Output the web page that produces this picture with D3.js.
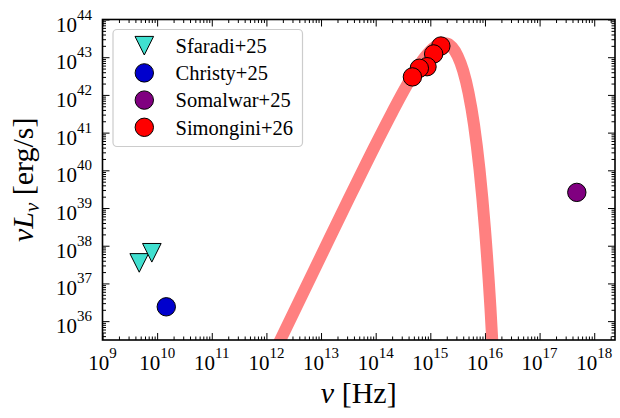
<!DOCTYPE html>
<html>
<head>
<meta charset="utf-8">
<script src="https://cdn.jsdelivr.net/npm/d3@7/dist/d3.min.js"></script>
<style>body { margin: 0; background: #fff; }</style>
</head>
<body>
<script>
// observations (nu in Hz, nuLnu in erg/s)
const nuSfaradi = [4.7e9, 8.0e9];
const lumSfaradi = [3.5e37, 6.5e37];
const nuChristy = [1.47e10];
const lumChristy = [2.4e36];
const nuSomalwar = [4.8e17];
const lumSomalwar = [2.6e39];
// Simongini points, listed in the order they are stacked (high nu first)
const nuSimongini = [1.56e15, 1.15e15, 8.7e14, 6.3e14, 4.7e14];
const lumSimongini = [1.98e43, 1.22e43, 5.6e42, 5.1e42, 3.0e42];

// thick model curve, read along the band
const curveNu = [1.585e12, 3.16e12, 1e13, 3.16e13, 1e14, 2.0e14, 3.16e14, 5.01e14, 7.94e14,
  1e15, 1.26e15, 1.58e15, 2.0e15, 2.51e15, 3.16e15, 3.98e15, 5.01e15, 6.31e15, 7.94e15,
  1e16, 1.26e16, 1.41e16];
const curveLum = [2.16e35, 1.71e36, 5.37e37, 1.66e39, 4.85e40, 3.43e41, 1.19e42, 3.73e42, 9.95e42,
  1.47e43, 1.97e43, 2.33e43, 2.31e43, 1.83e43, 1.08e43, 4.43e42, 1.13e42, 1.60e41, 1.07e40,
  2.81e38, 2.24e36, 1.19e35];

const seriesNames = ["Sfaradi+25", "Christy+25", "Somalwar+25", "Simongini+26"];
const xTickExp = [9, 10, 11, 12, 13, 14, 15, 16, 17, 18];
const yTickExp = [36, 37, 38, 39, 40, 41, 42, 43, 44];

const L = 102.5, R = 615, T = 19.5, B = 340;

const svg = d3.select("body").append("svg").attr("width", 620).attr("height", 418);

const x = d3.scaleLog().domain([1e9, 2.4e18]).range([L, R]);
const y = d3.scaleLog().domain([3.16e35, 1e44]).range([B, T]);

const markStyle = {
  "Sfaradi+25": {fill: "#40e0d0", shape: "tri"},
  "Christy+25": {fill: "#0000cd", shape: "circle"},
  "Somalwar+25": {fill: "#800080", shape: "circle"},
  "Simongini+26": {fill: "#ff0000", shape: "circle"}
};
const triPath = "M0,9.3L-9.3,-9.3L9.3,-9.3Z";

function serif(t, size) {
  return t.style("font-family", "Liberation Serif").style("font-size", size + "px");
}

// ---- all text first ----
const xMajor = xTickExp.map(e => Math.pow(10, e));
const yMajor = yTickExp.map(e => Math.pow(10, e));

function powLabel(t, d) {
  t.append("tspan").text("10");
  t.append("tspan").attr("dy", -12).style("font-size", "15px").text(Math.round(Math.log10(d)));
}
xMajor.forEach(d => {
  const t = serif(svg.append("text"), 21).attr("x", x(d)).attr("y", B + 30).attr("text-anchor", "middle");
  powLabel(t, d);
});
yMajor.forEach(d => {
  const t = serif(svg.append("text"), 21).attr("x", L - 10.5).attr("y", y(d) + 12).attr("text-anchor", "end");
  powLabel(t, d);
});

const xt = serif(svg.append("text"), 30).attr("x", (L + R) / 2).attr("y", 403)
  .attr("text-anchor", "middle");
xt.append("tspan").style("font-style", "italic").text("ν");
xt.append("tspan").text(" [Hz]");

const yt = serif(svg.append("text"), 30)
  .attr("transform", `translate(32.5,${(T + B) / 2}) rotate(-90)`)
  .attr("text-anchor", "middle");
yt.append("tspan").style("font-style", "italic").text("νL");
yt.append("tspan").style("font-style", "italic").style("font-size", "21px").attr("dy", 6).text("ν");
yt.append("tspan").attr("dy", -6).text(" [erg/s]");

// legend (box, markers, labels) - nothing else is drawn in its area
svg.append("rect").attr("x", 113).attr("y", 29.5).attr("width", 189.5).attr("height", 117)
  .attr("rx", 4).attr("fill", "#fff").attr("fill-opacity", 0.8)
  .attr("stroke", "#cccccc").attr("stroke-width", 1.2);
seriesNames.forEach((name, i) => {
  const cy = 45.7 + i * 27.2;
  const st = markStyle[name];
  if (st.shape == "tri") {
    svg.append("path").attr("d", triPath).attr("transform", `translate(144.3,${cy})`)
      .attr("fill", st.fill).attr("stroke", "#000").attr("stroke-width", 1);
  } else {
    svg.append("circle").attr("cx", 144.3).attr("cy", cy).attr("r", 9.2)
      .attr("fill", st.fill).attr("stroke", "#000").attr("stroke-width", 1);
  }
  serif(svg.append("text"), 20.5).attr("x", 175.5).attr("y", cy + 7.2).text(name);
});

// ---- plot ----
svg.append("defs").append("clipPath").attr("id", "plotclip")
  .append("rect").attr("x", L).attr("y", T).attr("width", R - L).attr("height", B - T);

function minorOf(lo, hi) {
  var out = [];
  for (var e = lo; e <= hi; e++) {
    for (var k = 2; k <= 9; k++) out.push(k * Math.pow(10, e));
  }
  return out;
}
const xMinor = minorOf(9, 18).filter(v => v < x.domain()[1]);
const yMinor = minorOf(35, 43).filter(v => v > y.domain()[0]);

function tickLines(g) {
  g.select(".domain").remove();
  g.selectAll("text").remove();
  g.selectAll("line").attr("stroke", "#000").attr("stroke-width", 1);
}

svg.append("g").attr("transform", `translate(0,${B})`)
  .call(d3.axisBottom(x).tickValues(xMinor).tickSize(-3.5).tickFormat("")).call(tickLines);
svg.append("g").attr("transform", `translate(0,${B})`)
  .call(d3.axisBottom(x).tickValues(xMajor).tickSize(-7).tickFormat("")).call(tickLines);
svg.append("g").attr("transform", `translate(0,${T})`)
  .call(d3.axisTop(x).tickValues(xMinor).tickSize(-3.5).tickFormat("")).call(tickLines);
svg.append("g").attr("transform", `translate(0,${T})`)
  .call(d3.axisTop(x).tickValues(xMajor).tickSize(-7).tickFormat("")).call(tickLines);
svg.append("g").attr("transform", `translate(${L},0)`)
  .call(d3.axisLeft(y).tickValues(yMinor).tickSize(-3.5).tickFormat("")).call(tickLines);
svg.append("g").attr("transform", `translate(${L},0)`)
  .call(d3.axisLeft(y).tickValues(yMajor).tickSize(-7).tickFormat("")).call(tickLines);
svg.append("g").attr("transform", `translate(${R},0)`)
  .call(d3.axisRight(y).tickValues(yMinor).tickSize(-3.5).tickFormat("")).call(tickLines);
svg.append("g").attr("transform", `translate(${R},0)`)
  .call(d3.axisRight(y).tickValues(yMajor).tickSize(-7).tickFormat("")).call(tickLines);

// model curve
const curvePts = curveNu.map((v, i) => [v, curveLum[i]]);
svg.append("path")
  .datum(curvePts)
  .attr("clip-path", "url(#plotclip)")
  .attr("fill", "none")
  .attr("stroke", "#ff8080")
  .attr("stroke-width", 12)
  .attr("stroke-linejoin", "round")
  .attr("d", d3.line().x(d => x(d[0])).y(d => y(d[1])).curve(d3.curveMonotoneX));

// markers
function drawMarks(name, nus, lums) {
  const st = markStyle[name];
  const pts = nus.map((v, i) => ({nu: v, lum: lums[i]}));
  const g = svg.append("g").attr("clip-path", "url(#plotclip)");
  if (st.shape == "tri") {
    g.selectAll("path").data(pts).join("path")
      .attr("d", triPath)
      .attr("transform", d => `translate(${x(d.nu)},${y(d.lum)})`)
      .attr("fill", st.fill).attr("stroke", "#000").attr("stroke-width", 1);
  } else {
    g.selectAll("circle").data(pts).join("circle")
      .attr("cx", d => x(d.nu)).attr("cy", d => y(d.lum)).attr("r", 9.2)
      .attr("fill", st.fill).attr("stroke", "#000").attr("stroke-width", 1);
  }
}
drawMarks("Sfaradi+25", nuSfaradi, lumSfaradi);
drawMarks("Christy+25", nuChristy, lumChristy);
drawMarks("Somalwar+25", nuSomalwar, lumSomalwar);
drawMarks("Simongini+26", nuSimongini, lumSimongini);

// frame
svg.append("rect").attr("x", L).attr("y", T).attr("width", R - L).attr("height", B - T)
  .attr("fill", "none").attr("stroke", "#000").attr("stroke-width", 1.6);
</script>
</body>
</html>
